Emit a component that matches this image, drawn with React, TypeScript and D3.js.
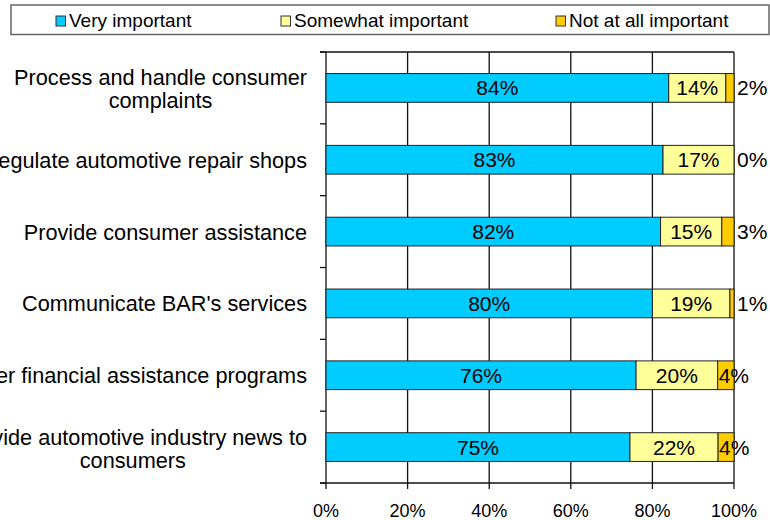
import React from "react";
import * as d3 from "d3";

const categories: string[][] = [
  ["Process and handle consumer", "complaints"],
  ["Regulate automotive repair shops"],
  ["Provide consumer assistance"],
  ["Communicate BAR's services"],
  ["Offer financial assistance programs"],
  ["Provide automotive industry news to", "consumers"],
];
const veryImportant = [84, 82.6, 82, 80, 76, 74.5];
const somewhatImportant = [14, 17.4, 15, 19, 20, 21.6];
const notAtAllImportant = [2, 0, 3, 1, 4, 3.9];
const seriesNames = ["Very important", "Somewhat important", "Not at all important"];
const seriesColors = ["#00CCFF", "#FFFF99", "#FFCC00"];
const xTicks = [0, 20, 40, 60, 80, 100];

const FONT = "'Liberation Sans', Arial, sans-serif";

function measure(text: string, size: number): number {
  const c = document.createElement("canvas");
  const ctx = c.getContext("2d");
  if (!ctx) return text.length * size * 0.5;
  ctx.font = `${size}px 'Liberation Sans', Arial, sans-serif`;
  return ctx.measureText(text).width;
}

export default function App() {
  const W = 770, H = 520;
  const left = 326, right = 734, top = 52, bottom = 483;
  const x = d3.scaleLinear().domain([0, 100]).range([left, right]);
  const idx = categories.map((_, i) => i);
  const y = d3.scaleBand<number>().domain(idx).range([top, bottom]).paddingInner(0.6).paddingOuter(0.3);
  const band = (bottom - top) / categories.length;

  const rows = idx.map((i) => ({ v0: veryImportant[i], v1: somewhatImportant[i], v2: notAtAllImportant[i] }));
  const stack = d3.stack<any>().keys(["v0", "v1", "v2"]);
  const stacked = stack(rows);

  const catSize = 21.7;
  const labelRight = 307;

  return (
    <svg width={W} height={H} style={{ position: "absolute", left: 0, top: 0, background: "#fff" }} fontFamily={FONT}>
      {/* Legend */}
      <rect x={11} y={5} width={758} height={29.5} fill="#fff" stroke="#666" strokeWidth={1.5} />
      {seriesNames.map((n, i) => {
        const sx = [56, 281, 556][i];
        return (
          <g key={n}>
            <rect x={sx} y={16} width={9.5} height={10} fill={seriesColors[i]} stroke="#333" strokeWidth={1} />
            <text x={sx + 13} y={27} fontSize={19} fill="#000">{n}</text>
          </g>
        );
      })}

      {/* gridlines */}
      {xTicks.map((t) => (
        <line key={"g" + t} x1={x(t)} x2={x(t)} y1={top} y2={bottom + 6} stroke="#111" strokeWidth={1.3} />
      ))}
      {/* top line */}
      <line x1={left - 6} x2={x(100)} y1={top} y2={top} stroke="#111" strokeWidth={1.3} />
      {/* bottom axis */}
      <line x1={left - 6} x2={x(100)} y1={bottom} y2={bottom} stroke="#111" strokeWidth={1.3} />
      {/* y ticks */}
      {d3.range(categories.length + 1).map((k) => (
        <line key={"yt" + k} x1={left - 6} x2={left} y1={top + k * band} y2={top + k * band} stroke="#111" strokeWidth={1.3} />
      ))}
      {/* x tick labels */}
      {xTicks.map((t) => (
        <text key={"xl" + t} x={x(t)} y={517} fontSize={18} textAnchor="middle" fill="#000">{t}%</text>
      ))}

      {/* bars */}
      {stacked.map((s, si) => (
        <g key={"s" + si}>
          {s.map((d, i) => {
            const w = x(d[1]) - x(d[0]);
            if (w <= 0) return null;
            return (
              <rect key={i} x={x(d[0])} y={y(i)!} width={w} height={y.bandwidth()} fill={seriesColors[si]} stroke="#222" strokeWidth={1} />
            );
          })}
        </g>
      ))}

      {/* data labels */}
      {stacked.map((s, si) => (
        <g key={"l" + si}>
          {s.map((d, i) => {
            const v = d[1] - d[0];
            const label = Math.round(v) + "%";
            const cy = y(i)! + y.bandwidth() / 2 + 7.5;
            if (si < 2) {
              return <text key={i} x={x((d[0] + d[1]) / 2)} y={cy} fontSize={21} textAnchor="middle" fill="#000">{label}</text>;
            }
            const lx = v >= 3.5 ? x(d[0]) + 1 : x(100) + 3;
            return <text key={i} x={lx} y={cy} fontSize={21} textAnchor="start" fill="#000">{label}</text>;
          })}
        </g>
      ))}

      {/* category labels */}
      {categories.map((lines, i) => {
        const cy = y(i)! + y.bandwidth() / 2;
        if (lines.length === 1) {
          return <text key={"c" + i} x={labelRight} y={cy + 8} fontSize={catSize} textAnchor="end" fill="#000">{lines[0]}</text>;
        }
        const wMax = Math.max(...lines.map((l) => measure(l, catSize)));
        const cx = labelRight - wMax / 2;
        const lh = 23;
        return (
          <text key={"c" + i} fontSize={catSize} textAnchor="middle" fill="#000">
            {lines.map((l, k) => (
              <tspan key={k} x={cx} y={cy + 8 - lh / 2 + k * lh + 1}>{l}</tspan>
            ))}
          </text>
        );
      })}
    </svg>
  );
}
